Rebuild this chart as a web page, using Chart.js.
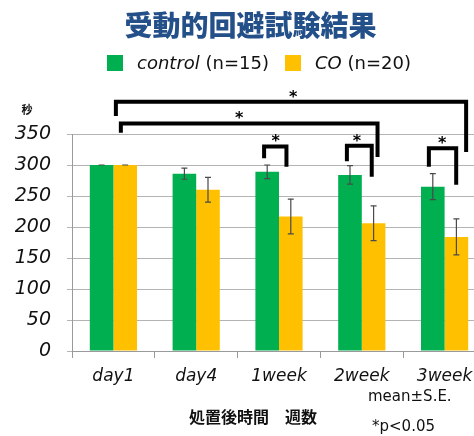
<!DOCTYPE html>
<html>
<head>
<meta charset="utf-8">
<script src="https://cdn.jsdelivr.net/npm/chart.js@4"></script>
<style>
	html, body { margin: 0; padding: 0; background: #fff; overflow: hidden; }
	#wrap { width: 490px; height: 436px; }
</style>
</head>
<body>
<div id="wrap"><canvas id="myChart" width="490" height="436"></canvas></div>
<script>
// values (seconds)
const categories = ["day1", "day4", "1week", "2week", "3week"];
const controlMean = [300, 286, 289, 284, 265];
const controlSE = [0, 9, 11, 15, 21];
const coMean = [300, 260, 217, 206, 184];
const coSE = [0, 20, 28, 28, 29];
const yTicks = [0, 50, 100, 150, 200, 250, 300, 350];

// significance brackets: x in category index units, heights in seconds
const bracketFrom = [0.03, 0.09, 1.82, 2.82, 3.81];
const bracketTo = [4.26, 3.19, 2.09, 3.12, 4.14];
const bracketTop = [402, 367, 330, 331, 327];
const bracketLeftEnd = [379, 352, 311, 306, 297];
const bracketRightEnd = [321, 313, 297, 281, 268];
const starAt = [2.17, 1.52, 1.96, 2.94, 3.97];

const green = "#00b050";
const gold = "#ffc000";

// error bars (mean ± S.E.)
const errorBars = {
	id: "errorBars",
	afterDatasetsDraw(chart) {
		const ctx = chart.ctx;
		const y = chart.scales.y;
		const seList = [controlSE, coSE];
		ctx.save();
		ctx.strokeStyle = "#4a4a4a";
		ctx.lineWidth = 1.2;
		chart.data.datasets.forEach((ds, i) => {
			chart.getDatasetMeta(i).data.forEach((bar, j) => {
				const hi = y.getPixelForValue(ds.data[j] + seList[i][j]);
				const lo = y.getPixelForValue(ds.data[j] - seList[i][j]);
				ctx.beginPath();
				ctx.moveTo(bar.x, hi);
				ctx.lineTo(bar.x, lo);
				ctx.moveTo(bar.x - 3, hi);
				ctx.lineTo(bar.x + 3, hi);
				ctx.moveTo(bar.x - 3, lo);
				ctx.lineTo(bar.x + 3, lo);
				ctx.stroke();
			});
		});
		ctx.restore();
	},
};

// brackets, stars, legend and notes
const annotations = {
	id: "annotations",
	afterDraw(chart) {
		const ctx = chart.ctx;
		const x = chart.scales.x;
		const y = chart.scales.y;
		const x0 = x.getPixelForValue(0);
		const step = x.getPixelForValue(1) - x0;
		const px = (pos) => x0 + pos * step;

		ctx.save();
		// brackets
		ctx.strokeStyle = "#000";
		ctx.lineWidth = 4;
		ctx.lineJoin = "miter";
		bracketFrom.forEach((from, i) => {
			const top = y.getPixelForValue(bracketTop[i]);
			ctx.beginPath();
			ctx.moveTo(px(from), y.getPixelForValue(bracketLeftEnd[i]));
			ctx.lineTo(px(from), top);
			ctx.lineTo(px(bracketTo[i]), top);
			ctx.lineTo(px(bracketTo[i]), y.getPixelForValue(bracketRightEnd[i]));
			ctx.stroke();

			ctx.fillStyle = "#000";
			ctx.font = "bold 16px 'DejaVu Sans'";
			ctx.textAlign = "center";
			ctx.textBaseline = "alphabetic";
			ctx.fillText("*", px(starAt[i]), top - 8.5 + 8.5);
		});

		// legend
		const items = [
			{ color: green, it: "control", rest: " (n=15)", sx: 107 },
			{ color: gold, it: "CO", rest: " (n=20)", sx: 285 },
		];
		ctx.textAlign = "left";
		ctx.textBaseline = "middle";
		items.forEach((item) => {
			ctx.fillStyle = item.color;
			ctx.fillRect(item.sx, 55, 16, 16);
			ctx.fillStyle = "#111";
			ctx.font = "italic 18px 'DejaVu Sans'";
			ctx.fillText(item.it, item.sx + 30, 64);
			const w = ctx.measureText(item.it).width;
			ctx.font = "18px 'DejaVu Sans'";
			ctx.fillText(item.rest, item.sx + 30 + w, 64);
		});

		// unit, axis title, notes
		ctx.fillStyle = "#111";
		ctx.font = "bold 11px 'Noto Sans CJK JP'";
		ctx.textAlign = "center";
		ctx.fillText("秒", 27, 110);

		ctx.font = "bold 16px 'Noto Sans CJK JP'";
		ctx.fillText("処置後時間　週数", 253, 417);

		ctx.textAlign = "left";
		ctx.font = "15px 'DejaVu Sans'";
		ctx.fillText("mean±S.E.", 368, 397);
		ctx.font = "15px 'DejaVu Sans'";
		ctx.fillText("*p<0.05", 372, 427);
		ctx.restore();
	},
};

const data = {
	labels: categories,
	datasets: [
		{
			label: "control (n=15)",
			data: controlMean,
			backgroundColor: green,
			categoryPercentage: 0.57,
			barPercentage: 1.0,
		},
		{
			label: "CO (n=20)",
			data: coMean,
			backgroundColor: gold,
			categoryPercentage: 0.57,
			barPercentage: 1.0,
		},
	],
};

const config = {
	type: "bar",
	data: data,
	plugins: [errorBars, annotations],
	options: {
		responsive: false,
		animation: false,
		devicePixelRatio: 1,
		layout: {
			padding: { left: 15, right: 4, top: 0, bottom: 46 },
		},
		plugins: {
			legend: { display: false },
			tooltip: { enabled: false },
			title: {
				display: true,
				text: "受動的回避試験結果",
				color: "#24508a",
				font: { family: "'Noto Sans CJK JP'", size: 28, weight: 900, lineHeight: 1.2 },
				padding: { top: 9, bottom: 91.4 },
			},
		},
		scales: {
			x: {
				grid: {
					offset: true,
					drawOnChartArea: false,
					tickLength: 7,
					color: "#9a9a9a",
				},
				border: { color: "#9a9a9a" },
				ticks: {
					color: "#111",
					padding: 8,
					font: { family: "'DejaVu Sans'", size: 17, style: "italic" },
				},
				afterFit(scale) {
					scale.height = 39;
				},
			},
			y: {
				min: 0,
				max: 350,
				afterBuildTicks(scale) {
					scale.ticks = yTicks.map((v) => ({ value: v }));
				},
				grid: { color: "#b4b4b4", tickLength: 5 },
				border: { color: "#9a9a9a" },
				ticks: {
					color: "#111",
					padding: 16,
					font: { family: "'DejaVu Sans'", size: 19, style: "italic" },
				},
				afterFit(scale) {
					scale.width = 57;
				},
			},
		},
	},
};

new Chart(document.getElementById("myChart"), config);
</script>
</body>
</html>
